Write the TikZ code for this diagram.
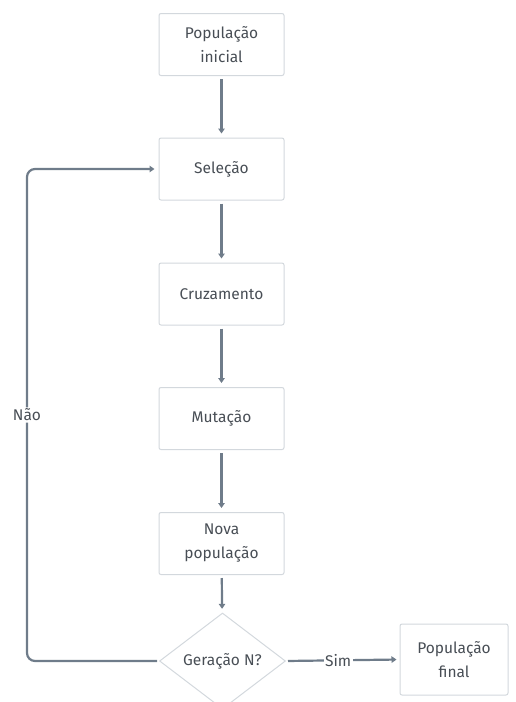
\documentclass[tikz,border=0pt]{standalone}
\usepackage{fontspec}
\setmainfont{Fira Sans}
\usetikzlibrary{arrows.meta,shapes.geometric}
\definecolor{edgec}{HTML}{6F7C8A}
\definecolor{boxc}{HTML}{D3D8DD}
\definecolor{textc}{HTML}{484E55}
\begin{document}
\begin{tikzpicture}[x=1pt,y=-1pt,
  font=\fontsize{15.5}{24}\selectfont\color{textc},
  stepbox/.style={draw=boxc,line width=1pt,rounded corners=2pt,minimum width=125pt,minimum height=62pt,align=center,fill=white},
  dec/.style={draw=boxc,line width=1pt,diamond,aspect=1.31,minimum width=126pt,minimum height=96pt,inner sep=0pt},
  conn/.style={draw=edgec,line width=2.2pt,-{Triangle[width=6.5pt,length=5pt]},shorten <=3pt,shorten >=4pt}]
\useasboundingbox (0,0) rectangle (516,702);
\node[stepbox] (p0) at (221.5,44.5) {População\\inicial};
\node[stepbox] (sel) at (221.5,169) {Seleção};
\node[stepbox] (cru) at (221.5,294) {Cruzamento};
\node[stepbox] (mut) at (221.5,418.5) {Mutação};
\node[stepbox] (nova) at (221.5,543.5) {Nova\\população};
\node[dec] (ger) at (222.5,661) {Geração N?};
\node[stepbox,minimum width=108pt,minimum height=71pt] (fin) at (454,659.5) {População\\final};
\coordinate (lb) at (27,661);
\coordinate (lt) at (27,169);
\draw[conn] (p0) -- (sel);
\draw[conn] (sel) -- (cru);
\draw[conn] (cru) -- (mut);
\draw[conn] (mut) -- (nova);
\draw[conn] (nova) -- (ger);
\draw[conn,shorten <=2pt,rounded corners=8pt] (ger.west) -- (lb) -- node[fill=white,inner sep=1.5pt,pos=0.5] {Não} (lt) -- (sel.west);
\draw[conn,shorten <=2pt,shorten >=3pt] (ger.east) -- node[fill=white,inner sep=1.5pt,pos=0.46] {Sim} (fin.west);
\end{tikzpicture}
\end{document}
